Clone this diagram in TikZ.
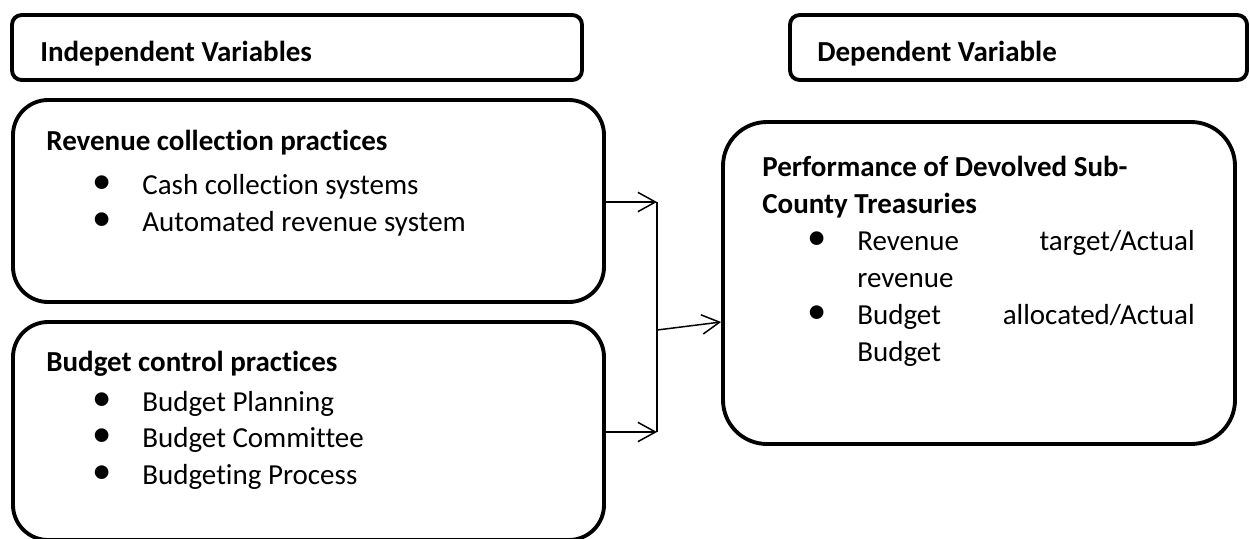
\documentclass[tikz,border=0pt]{standalone}
\usepackage{fontspec}
\setmainfont{Carlito}[RawFeature={-liga;-dlig;-clig}]
\usetikzlibrary{arrows.meta,fit}
\begin{document}
\begin{tikzpicture}[x=0.02cm,y=-0.02cm,
  hdr/.style={draw, line width=2.2pt, rounded corners=5.5pt, inner sep=0pt},
  bigbox/.style={draw, line width=2.2pt, rounded corners=20pt, inner sep=0pt},
  txt/.style={anchor=base west, inner sep=0pt, font=\fontsize{16.5}{20}\selectfont},
  rtxt/.style={anchor=base east, inner sep=0pt, font=\fontsize{16.5}{20}\selectfont},
  btxt/.style={anchor=base west, inner sep=0pt, font=\fontsize{16.5}{20}\selectfont\bfseries},
  bul/.style={anchor=center, inner sep=0pt, font=\fontsize{22}{22}\selectfont},
  conn/.style={line width=0.85pt, -{Straight Barb[length=10pt,width=11pt]}},
  plain/.style={line width=0.85pt}]
\useasboundingbox (0,0) rectangle (1250,538);
% boxes
\node[hdr, fit={(12,15)(582,80)}] (ih) {};
\node[hdr, fit={(790,15)(1247,80)}] (dh) {};
\node[bigbox, fit={(13,100)(604,302)}] (rev) {};
\node[bigbox, fit={(13,322)(604,540)}] (bud) {};
\node[bigbox, rounded corners=25pt, fit={(723,122)(1235,444)}] (perf) {};
% header texts
\node[btxt] (iht) at (40,61) {Independent Variables};
\node[btxt] (dht) at (817,61) {Dependent Variable};
% revenue box
\node[btxt] (revt) at (46,150) {Revenue collection practices};
\node[bul] (rb1) at (102,185) {•};
\node[txt] (r1) at (142,194) {Cash collection systems};
\node[bul] (rb2) at (102,222) {•};
\node[txt] (r2) at (142,231) {Automated revenue system};
% budget box
\node[btxt] (budt) at (46,371) {Budget control practices};
\node[bul] (bb1) at (102,402) {•};
\node[txt] (b1) at (142,411) {Budget Planning};
\node[bul] (bb2) at (102,438) {•};
\node[txt] (b2) at (142,447) {Budget Committee};
\node[bul] (bb3) at (102,475) {•};
\node[txt] (b3) at (142,484) {Budgeting Process};
% performance box
\node[btxt] (pt1) at (762,176) {Performance of Devolved Sub-};
\node[btxt] (pt2) at (762,213) {County Treasuries};
\node[bul] (pb1) at (817,241) {•};
\node[txt] (p1a) at (857,250) {Revenue};
\node[rtxt] (p1b) at (1195,250) {target/Actual};
\node[txt] (p1c) at (857,287) {revenue};
\node[bul] (pb2) at (817,315) {•};
\node[txt] (p2a) at (857,324) {Budget};
\node[rtxt] (p2b) at (1195,324) {allocated/Actual};
\node[txt] (p2c) at (857,361) {Budget};
% connectors
\coordinate (j1) at (657,202);
\coordinate (j2) at (657,432);
\coordinate (jm) at (657,330);
\coordinate (pin) at (723,322);
\draw[conn] (rev.east |- j1) -- (j1);
\draw[conn] (bud.east |- j2) -- (j2);
\draw[plain] (j1) -- (j2);
\draw[conn] (jm) -- (perf.west |- pin);
\end{tikzpicture}
\end{document}
